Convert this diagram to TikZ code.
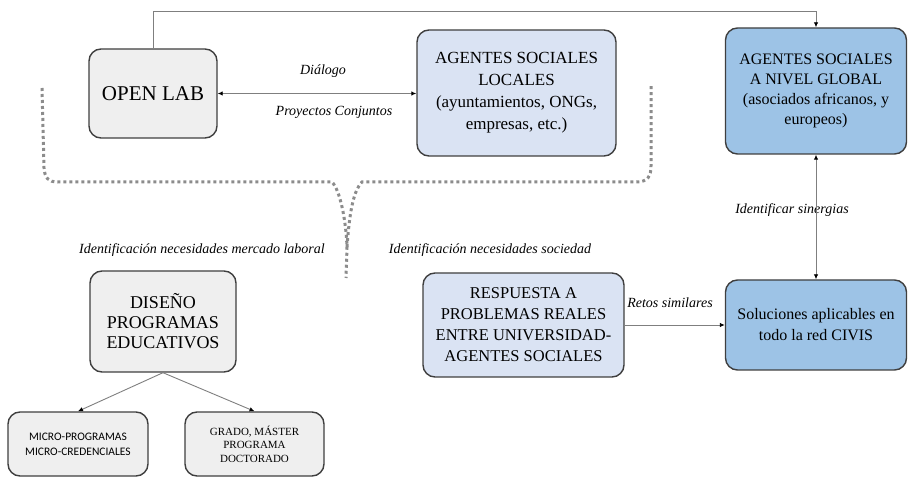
\documentclass[tikz,border=0pt]{standalone}
\usepackage{fontspec}
\setmainfont{Liberation Serif}
\newfontfamily\smallsans{Carlito}
\usetikzlibrary{arrows.meta}
\definecolor{boxgray}{HTML}{EFEFEF}
\definecolor{lightblue}{HTML}{DAE3F3}
\definecolor{midblue}{HTML}{9DC3E6}
\definecolor{border}{HTML}{3F3F3F}
\definecolor{conn}{HTML}{7F7F7F}
\definecolor{dotgray}{HTML}{8C8C8C}
\tikzset{
  box/.style={draw=border, line width=1.4pt, rounded corners=12pt, align=center, inner sep=2pt},
  graybox/.style={box, fill=boxgray},
  lbluebox/.style={box, fill=lightblue},
  mbluebox/.style={box, fill=midblue},
  conline/.style={draw=conn, line width=0.9pt},
  tip/.style={-{Latex[length=5pt,width=4.5pt,color=black]}},
  bitip/.style={{Latex[length=5pt,width=4.5pt,color=black]}-{Latex[length=5pt,width=4.5pt,color=black]}},
  lbl/.style={font=\fontsize{14}{16}\selectfont\itshape, inner sep=0pt},
  bracepath/.style={draw=dotgray, line width=3pt, dash pattern=on 3pt off 3pt}
}
\begin{document}
\begin{tikzpicture}[x=1pt,y=-1pt]
\useasboundingbox (0,0) rectangle (908,478);
% nodes
\node[graybox, minimum width=128pt, minimum height=89pt, font=\fontsize{21}{24}\selectfont] (open) at (153,93.5) {OPEN LAB};
\node[lbluebox, minimum width=199pt, minimum height=126pt, font=\fontsize{17}{22}\selectfont] (local) at (516.5,93) {AGENTES SOCIALES\\LOCALES\\(ayuntamientos, ONGs,\\empresas, etc.)};
\node[mbluebox, minimum width=181pt, minimum height=126pt, font=\fontsize{16}{20}\selectfont] (global) at (816,91) {AGENTES SOCIALES\\A NIVEL GLOBAL\\(asociados africanos, y\\europeos)};
\node[graybox, minimum width=146pt, minimum height=101pt, font=\fontsize{18}{20}\selectfont] (dis) at (163,321.5) {DISEÑO\\PROGRAMAS\\EDUCATIVOS};
\node[graybox, minimum width=140pt, minimum height=64pt, font=\smallsans\fontsize{11.5}{15}\selectfont] (micro) at (78,444) {MICRO-PROGRAMAS\\MICRO-CREDENCIALES};
\node[graybox, minimum width=139pt, minimum height=64pt, font=\fontsize{11}{13.5}\selectfont] (grado) at (254.5,444) {GRADO, MÁSTER\\PROGRAMA\\DOCTORADO};
\node[lbluebox, minimum width=201pt, minimum height=104pt, font=\fontsize{16.5}{21}\selectfont] (resp) at (523.5,325) {RESPUESTA A\\PROBLEMAS REALES\\ENTRE UNIVERSIDAD-\\AGENTES SOCIALES};
\node[mbluebox, minimum width=181pt, minimum height=90pt, font=\fontsize{16}{21}\selectfont] (sol) at (816,325) {Soluciones aplicables en\\todo la red CIVIS};
% labels
\node[lbl] (dlg) at (323,71) {Diálogo};
\node[lbl] (pc) at (334,112) {Proyectos Conjuntos};
\node[lbl] (iml) at (202,250) {Identificación necesidades mercado laboral};
\node[lbl] (ins) at (490,250) {Identificación necesidades sociedad};
\node[lbl] (rs) at (670,303) {Retos similares};
\node[lbl] (isn) at (792,210) {Identificar sinergias};
% connectors
\coordinate (topl) at (153,11);
\draw[conline, tip] (open.north) -- (topl) -| (global.north);
\draw[conline, bitip] (open.east) -- (local.west |- open.east);
\draw[conline, bitip] (global.south) -- (sol.north);
\draw[conline, tip] (resp.east |- sol.west) -- (sol.west);
\draw[conline, tip] (dis.south) -- (micro.north);
\draw[conline, tip] (dis.south) -- (grado.north);
% dotted brace
\coordinate (b1) at (42,88);
\coordinate (b2) at (332,182);
\coordinate (b3) at (347,247);
\coordinate (b4) at (346,278);
\coordinate (b5) at (362,182);
\coordinate (b6) at (651,86);
\draw[bracepath] (b1) -- (44,168) .. controls (45,178) and (48,182) .. (58,182) -- (b2) .. controls (340,190) and (346,220) .. (b3) -- (b4);
\draw[bracepath] (b3) .. controls (349,220) and (352,192) .. (b5) -- (636,182) .. controls (648,182) and (651,176) .. (651,166) -- (b6);
\end{tikzpicture}
\end{document}
